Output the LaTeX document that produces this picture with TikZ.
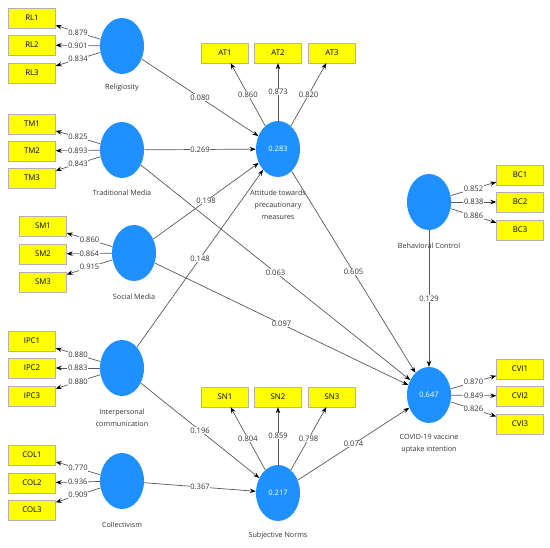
\documentclass[tikz,border=0pt]{standalone}
\usepackage{fontspec}
\setmainfont{Open Sans}
\usetikzlibrary{shapes.geometric,arrows.meta}
\definecolor{lvblue}{RGB}{30,144,255}
\definecolor{indyellow}{RGB}{255,255,0}
\tikzset{
  lv/.style={ellipse,fill=lvblue,minimum width=44pt,minimum height=56pt,inner sep=0pt,text=white,font=\fontsize{7.5}{8}\selectfont},
  ind/.style={rectangle,fill=indyellow,draw=gray!60,minimum width=47pt,minimum height=20pt,inner sep=0pt,font=\fontsize{7.8}{8}\selectfont},
  lvname/.style={align=center,text=black!80,font=\fontsize{7.2}{12}\selectfont},
  link/.style={draw=black!65,line width=0.7pt,-{Stealth[length=6pt,width=4.5pt,color=black]}},
  coef/.style={fill=white,inner sep=0.6pt,text=black!80,font=\fontsize{7.6}{8}\selectfont}
}
\begin{document}
\begin{tikzpicture}[x=1pt,y=-1pt]
        \useasboundingbox (0,0) rectangle (550,548);
        % latent variables
        \draw (122,46)  node[lv] (rl) {};
        \draw (122,150) node[lv] (tm) {};
        \draw (134,253) node[lv] (sm) {};
        \draw (122,368) node[lv] (ipc) {};
        \draw (122,481) node[lv] (col) {};
        \draw (278,149) node[lv] (att) {0.283};
        \draw (429,202) node[lv] (bc) {};
        \draw (429,395) node[lv] (cvi) {0.647};
        \draw (278,493) node[lv] (sn) {0.217};
        \node[lvname] (rlname) at (122,88) {Religiosity};
        \node[lvname] (tmname) at (122,193) {Traditional Media};
        \node[lvname] (smname) at (134,297) {Social Media};
        \node[lvname] (ipcname) at (122,418) {Interpersonal\\communication};
        \node[lvname] (colname) at (122,525) {Collectivism};
        \node[lvname] (attname) at (278,205) {Attitude towards\\precautionary\\measures};
        \node[lvname] (bcname) at (429,246) {Behavioral Control};
        \node[lvname] (cviname) at (429,444) {COVID-19 vaccine\\uptake intention};
        \node[lvname] (snname) at (278,536) {Subjective Norms};
        % indicators
        \draw (32,18)   node[ind] (rl1) {RL1};
        \draw (32,45)   node[ind] (rl2) {RL2};
        \draw (32,73)   node[ind] (rl3) {RL3};
        \draw (32,124)  node[ind] (tm1) {TM1};
        \draw (32,151)  node[ind] (tm2) {TM2};
        \draw (32,178)  node[ind] (tm3) {TM3};
        \draw (43,226)  node[ind] (sm1) {SM1};
        \draw (43,254)  node[ind] (sm2) {SM2};
        \draw (43,282)  node[ind] (sm3) {SM3};
        \draw (32,341)  node[ind] (ipc1) {IPC1};
        \draw (32,368)  node[ind] (ipc2) {IPC2};
        \draw (32,396)  node[ind] (ipc3) {IPC3};
        \draw (32,455)  node[ind] (col1) {COL1};
        \draw (32,483)  node[ind] (col2) {COL2};
        \draw (32,510)  node[ind] (col3) {COL3};
        \draw (225,53)  node[ind] (at1) {AT1};
        \draw (278,53)  node[ind] (at2) {AT2};
        \draw (332,53)  node[ind] (at3) {AT3};
        \draw (520,175) node[ind] (bc1) {BC1};
        \draw (520,202) node[ind] (bc2) {BC2};
        \draw (520,230) node[ind] (bc3) {BC3};
        \draw (520,369) node[ind] (cvi1) {CVI1};
        \draw (520,396) node[ind] (cvi2) {CVI2};
        \draw (520,424) node[ind] (cvi3) {CVI3};
        \draw (225,397) node[ind] (sn1) {SN1};
        \draw (278,397) node[ind] (sn2) {SN2};
        \draw (332,397) node[ind] (sn3) {SN3};
        % outer loadings
        \draw[link] (rl) -- (rl1) node[midway,coef] {0.879};
        \draw[link] (rl) -- (rl2) node[midway,coef] {0.901};
        \draw[link] (rl) -- (rl3) node[midway,coef] {0.834};
        \draw[link] (tm) -- (tm1) node[midway,coef] {0.825};
        \draw[link] (tm) -- (tm2) node[midway,coef] {0.893};
        \draw[link] (tm) -- (tm3) node[midway,coef] {0.843};
        \draw[link] (sm) -- (sm1) node[midway,coef] {0.860};
        \draw[link] (sm) -- (sm2) node[midway,coef] {0.864};
        \draw[link] (sm) -- (sm3) node[midway,coef] {0.915};
        \draw[link] (ipc) -- (ipc1) node[midway,coef] {0.880};
        \draw[link] (ipc) -- (ipc2) node[midway,coef] {0.883};
        \draw[link] (ipc) -- (ipc3) node[midway,coef] {0.880};
        \draw[link] (col) -- (col1) node[midway,coef] {0.770};
        \draw[link] (col) -- (col2) node[midway,coef] {0.936};
        \draw[link] (col) -- (col3) node[midway,coef] {0.909};
        \draw[link] (att) -- (at1) node[midway,coef] {0.860};
        \draw[link] (att) -- (at2) node[midway,coef] {0.873};
        \draw[link] (att) -- (at3) node[midway,coef] {0.820};
        \draw[link] (bc) -- (bc1) node[midway,coef] {0.852};
        \draw[link] (bc) -- (bc2) node[midway,coef] {0.838};
        \draw[link] (bc) -- (bc3) node[midway,coef] {0.886};
        \draw[link] (cvi) -- (cvi1) node[midway,coef] {0.870};
        \draw[link] (cvi) -- (cvi2) node[midway,coef] {0.849};
        \draw[link] (cvi) -- (cvi3) node[midway,coef] {0.826};
        \draw[link] (sn) -- (sn1) node[midway,coef] {0.804};
        \draw[link] (sn) -- (sn2) node[midway,coef] {0.859};
        \draw[link] (sn) -- (sn3) node[midway,coef] {0.798};
        % path coefficients
        \draw[link] (rl) -- (att) node[midway,coef] {0.080};
        \draw[link] (tm) -- (att) node[midway,coef] {0.269};
        \draw[link] (sm) -- (att) node[midway,coef] {0.198};
        \draw[link] (ipc) -- (att) node[midway,coef] {0.148};
        \draw[link] (tm) -- (cvi) node[midway,coef] {0.063};
        \draw[link] (sm) -- (cvi) node[midway,coef] {0.097};
        \draw[link] (att) -- (cvi) node[midway,coef] {0.605};
        \draw[link] (bc) -- (cvi) node[midway,coef] {0.129};
        \draw[link] (ipc) -- (sn) node[midway,coef] {0.196};
        \draw[link] (col) -- (sn) node[midway,coef] {0.367};
        \draw[link] (sn) -- (cvi) node[midway,coef] {0.074};
    \end{tikzpicture}
\end{document}
